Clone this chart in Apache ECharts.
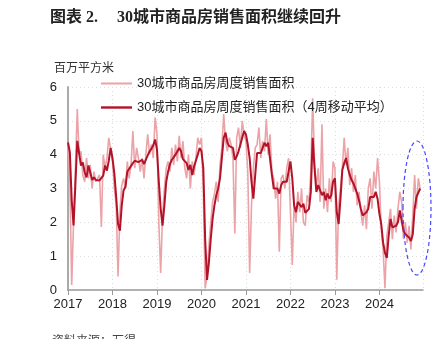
<!DOCTYPE html>
<html><head><meta charset="utf-8">
<script src="https://cdn.jsdelivr.net/npm/echarts@6/dist/echarts.min.js"></script>
<style>html,body{margin:0;padding:0;background:#fff}#c{width:432px;height:339px}</style>
</head><body><div id="c"></div>
<script>
// Half-monthly readings (24 per year), unit: million m²
const years = [2017, 2018, 2019, 2020, 2021, 2022, 2023, 2024];
const raw2017 = [4.3,3.2,0.15,2.0,3.6,5.35,4.0,4.1,3.4,3.2,3.9,3.3,3.7,3.0,3.5,3.2,3.3,3.4,1.86,4.0,3.6,3.9,4.5,4.55];
const raw2018 = [3.8,3.0,2.5,0.4,2.3,3.1,3.3,3.0,3.8,3.3,3.7,4.7,3.6,4.2,3.9,3.5,3.9,3.3,4.0,4.6,4.0,4.3,3.9,5.1];
const raw2019 = [4.6,2.0,0.5,2.2,3.0,3.6,3.8,3.5,4.2,3.7,4.3,3.8,4.56,3.9,4.4,3.6,3.3,4.0,3.0,3.8,3.4,3.9,4.5,4.3];
const raw2020 = [4.5,3.0,0.05,0.4,1.3,2.0,2.6,2.84,3.2,2.6,3.7,4.2,5.2,4.4,4.1,4.5,4.3,3.9,1.67,4.5,4.8,4.2,5.0,4.6];
const raw2021 = [4.4,3.5,0.5,2.5,3.6,4.2,4.3,4.8,3.9,4.4,4.1,5.05,4.0,4.6,3.5,3.3,2.7,3.2,1.13,3.3,3.4,3.0,3.6,3.9];
const raw2022 = [3.92,0.74,2.6,2.0,2.9,2.3,3.0,2.0,1.9,2.8,2.6,3.5,5.67,3.8,3.0,3.6,2.6,4.9,2.4,3.0,2.3,3.3,2.6,3.8];
const raw2023 = [3.6,0.3,2.5,3.0,3.6,4.5,3.7,4.2,3.1,3.6,2.9,3.4,2.5,2.9,2.3,1.9,2.5,1.8,3.0,3.3,2.4,3.5,3.0,3.9];
const raw2024 = [3.2,1.8,1.2,0.05,1.6,2.0,2.4,1.5,2.2,1.7,2.4,2.9,2.6,1.5,2.0,1.4,1.9,1.2,2.2,3.4,2.4,3.3,3.0];
const ma2017 = [4.36,4.07,2.65,1.91,3.14,4.41,4.46,3.68,3.77,3.48,3.33,3.68,3.48,3.25,3.33,3.25,3.28,3.24,3.28,3.38,3.68,3.53,3.82,4.2];
const ma2018 = [3.9,3.45,2.75,1.95,1.75,2.5,2.95,3.05,3.5,3.58,3.6,3.75,3.82,3.87,3.78,3.77,3.85,3.72,3.7,3.98,4.1,4.17,4.28,4.45];
const ma2019 = [4.15,3.2,2.4,1.9,2.5,3.2,3.5,3.72,3.85,3.92,4.0,3.98,4.2,4.1,3.87,3.82,3.75,3.55,3.7,3.4,3.65,3.6,4.0,4.2];
const ma2020 = [4.1,3.6,1.5,0.3,0.8,1.5,2.1,2.5,2.8,3.0,3.3,3.9,4.5,4.65,4.35,4.25,4.3,4.2,3.85,3.95,4.1,4.3,4.5,4.7];
const ma2021 = [4.6,4.3,3.9,3.2,2.7,3.4,4.05,4.1,4.05,4.1,4.35,4.25,4.35,4.4,3.4,3.0,2.95,3.0,2.85,3.1,3.2,3.2,3.2,3.5];
const ma2022 = [3.8,3.3,2.5,2.3,2.6,2.55,2.45,2.55,2.28,2.25,2.4,2.9,4.5,3.6,2.9,3.1,2.95,2.8,2.9,2.65,2.85,2.7,2.8,3.2];
const ma2023 = [3.3,2.3,1.95,2.7,3.55,3.75,3.9,3.6,3.4,3.25,3.15,3.2,2.85,2.65,2.4,2.2,2.15,2.3,2.4,2.75,2.7,2.75,2.9,2.7];
const ma2024 = [2.25,1.95,1.4,1.1,0.95,1.6,2.1,1.85,1.8,1.9,2.0,2.35,2.4,1.75,1.65,1.65,1.55,1.45,1.65,2.4,2.75,2.75,3.0];
const yTicks = [0, 1, 2, 3, 4, 5, 6];
const seriesNames = ['30城市商品房周度销售面积', '30城市商品房周度销售面积（4周移动平均）'];

const rawByYear = [raw2017, raw2018, raw2019, raw2020, raw2021, raw2022, raw2023, raw2024];
const maByYear = [ma2017, ma2018, ma2019, ma2020, ma2021, ma2022, ma2023, ma2024];
function toPairs(arrs) {
  const out = [];
  arrs.forEach((arr, k) => arr.forEach((v, i) => out.push([years[k] + i / 24, v])));
  return out;
}

const chart = echarts.init(document.getElementById('c'));
chart.setOption({
  animation: false,
  grid: { left: 68, right: 9, top: 87, bottom: 49 },
  legend: {
    orient: 'vertical', left: 101, top: 77, itemGap: 11, padding: 0,
    itemWidth: 31, itemHeight: 14,
    textStyle: { fontSize: 13, color: '#222', fontFamily: 'Liberation Sans, "Noto Sans CJK SC", sans-serif' },
    data: [
      { name: seriesNames[0], icon: 'path://M0,6 L31,6 L31,8 L0,8 Z' },
      { name: seriesNames[1], icon: 'path://M0,6 L31,6 L31,8.4 L0,8.4 Z' }
    ]
  },
  xAxis: {
    type: 'value', min: 2017, max: 2024.98, interval: 1,
    axisLine: { lineStyle: { color: '#999', width: 1.5 } },
    axisTick: { show: true, length: 5, lineStyle: { color: '#999' } },
    axisLabel: { fontSize: 13, color: '#222', margin: 8, showMaxLabel: false,
      fontFamily: 'Liberation Sans, sans-serif',
      formatter: v => Number.isInteger(v) ? String(v) : '' },
    splitLine: { show: true, lineStyle: { color: '#ddd', type: [1, 3] } }
  },
  yAxis: {
    type: 'value', min: yTicks[0], max: yTicks[yTicks.length - 1], interval: 1,
    name: '百万平方米', nameLocation: 'end', nameGap: 14,
    nameTextStyle: { fontSize: 12, color: '#333', align: 'left', padding: [0, 0, 0, -14],
      fontFamily: '"Noto Sans CJK SC", sans-serif' },
    axisLine: { show: true, lineStyle: { color: '#aaa', width: 2 } },
    axisTick: { show: false },
    axisLabel: { fontSize: 13, color: '#222', margin: 11, fontFamily: 'Liberation Sans, sans-serif' },
    splitLine: { show: true, lineStyle: { color: '#ddd', type: [1, 3] } }
  },
  series: [
    { name: seriesNames[0], type: 'line', data: toPairs(rawByYear), showSymbol: false,
      lineStyle: { color: '#eba3a8', width: 1.6 }, itemStyle: { color: '#eba3a8' }, z: 2 },
    { name: seriesNames[1], type: 'line', data: toPairs(maByYear), showSymbol: false,
      lineStyle: { color: '#b31329', width: 2 }, itemStyle: { color: '#b31329' }, z: 3 }
  ],
  graphic: [
    { type: 'text', left: 50, top: 10, style: { text: '图表 2.', font: 'bold 16px "Liberation Serif", "Noto Sans CJK SC"', fill: '#222' } },
    { type: 'text', left: 117, top: 10, style: { text: '30城市商品房销售面积继续回升', font: 'bold 16px "Liberation Serif", "Noto Sans CJK SC"', fill: '#222' } },
    { type: 'text', left: 52, top: 334, style: { text: '资料来源：万得', font: '12px "Noto Sans CJK SC"', fill: '#444' } },
    { type: 'ellipse', shape: { cx: 417, cy: 208, rx: 14, ry: 67 }, z: 10,
      style: { fill: 'none', stroke: '#4646ff', lineWidth: 1.2, lineDash: [4, 3] } }
  ]
});
</script></body></html>
